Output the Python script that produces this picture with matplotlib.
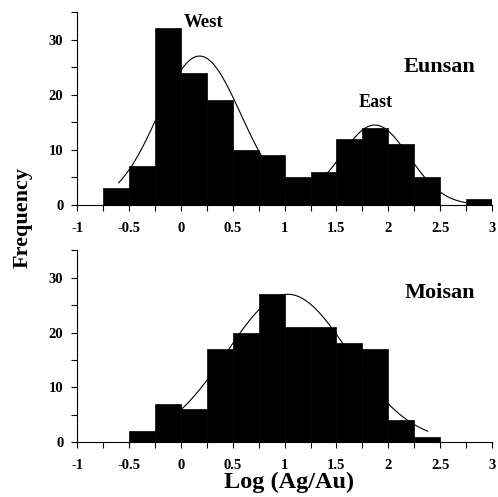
import numpy as np
from matplotlib import pyplot as plt

plt.rcParams['font.family'] = 'Liberation Serif'
plt.rcParams['font.weight'] = 'bold'
plt.rcParams['axes.labelweight'] = 'bold'

bin_edges = [-0.75, -0.5, -0.25, 0, 0.25, 0.5, 0.75, 1, 1.25, 1.5, 1.75, 2, 2.25, 2.5, 2.75, 3]
eunsan_counts = [3, 7, 32, 24, 19, 10, 9, 5, 6, 12, 14, 11, 5, 0, 1]
moisan_counts = [0, 2, 7, 6, 17, 20, 27, 21, 21, 18, 17, 4, 1, 0, 0]

# fitted normal curves: (amplitude, mean, sd), drawn over given x range
eunsan_fit = [(27, 0.18, 0.40), (14.5, 1.87, 0.33)]
eunsan_fit_range = (-0.6, 2.85)
moisan_fit = [(27, 1.03, 0.59)]
moisan_fit_range = (0.0, 2.38)

xticks = [-1, -0.5, 0, 0.5, 1, 1.5, 2, 2.5, 3]
xtick_labels = ['-1', '-0.5', '0', '0.5', '1', '1.5', '2', '2.5', '3']
yticks = [0, 10, 20, 30]


def curve(params, xr):
    x = np.linspace(xr[0], xr[1], 300)
    y = np.zeros_like(x)
    for a, m, s in params:
        y += a * np.exp(-(x - m) ** 2 / (2 * s ** 2))
    return x, y


def panel(ax, counts, fit, fit_range):
    lefts = bin_edges[:-1]
    widths = np.diff(bin_edges)
    ax.bar(lefts, counts, width=widths, align='edge', color='black', edgecolor='black', linewidth=0.5)
    x, y = curve(fit, fit_range)
    ax.plot(x, y, color='black', lw=0.8)
    ax.set_xlim(-1, 3)
    ax.set_ylim(0, 35)
    ax.spines['top'].set_visible(False)
    ax.spines['right'].set_visible(False)
    ax.set_xticks(xticks)
    ax.set_xticklabels(xtick_labels)
    ax.set_xticks(np.arange(-1, 3.01, 0.25), minor=True)
    ax.set_yticks(yticks)
    ax.set_yticks([5, 15, 25, 35], minor=True)
    ax.tick_params(which='both', direction='out', labelsize=10.5, width=0.8, length=4)
    ax.tick_params(axis='x', which='major', pad=8)
    ax.tick_params(axis='y', which='major', pad=6)


fig = plt.figure(figsize=(4.98, 4.97), dpi=100)
ax1 = fig.add_axes([0.155, 0.5875, 0.833, 0.3885])
ax2 = fig.add_axes([0.155, 0.1107, 0.833, 0.3853])

panel(ax1, eunsan_counts, eunsan_fit, eunsan_fit_range)
panel(ax2, moisan_counts, moisan_fit, moisan_fit_range)

ax1.text(0.22, 33, 'West', fontsize=13.5, ha='center', va='center')
ax1.text(1.88, 18.5, 'East', fontsize=13, ha='center', va='center')
ax1.text(2.84, 25, 'Eunsan', fontsize=16, ha='right', va='center')
ax2.text(2.84, 27.2, 'Moisan', fontsize=16, ha='right', va='center')

fig.text(0.045, 0.563, 'Frequency', rotation=90, fontsize=16, ha='center', va='center')
fig.text(0.58, 0.008, 'Log (Ag/Au)', fontsize=17.5, ha='center', va='bottom')

fig.savefig('out.png', dpi=100)
